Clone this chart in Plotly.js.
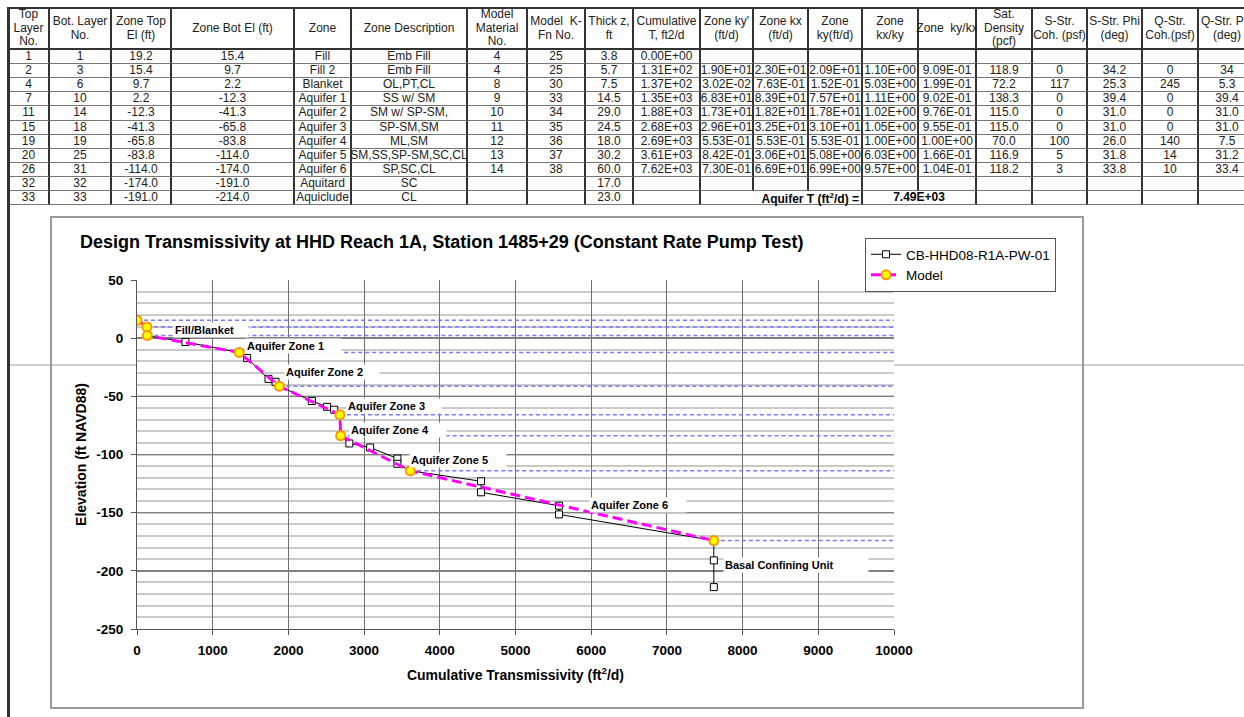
<!DOCTYPE html>
<html>
<head>
<meta charset="utf-8">
<script src="https://cdn.plot.ly/plotly-3.0.1.min.js"></script>
<style>
  html, body { margin:0; padding:0; background:#fff; }
  body { width:1244px; height:717px; overflow:hidden; position:relative; font-family: Arial, "Liberation Sans", sans-serif; }
  .ln { position:absolute; }
  .cell { position:absolute; box-sizing:border-box; border-right:2px solid #333; border-bottom:1px solid #777;
          font-size:12px; color:#222; display:flex; align-items:center; justify-content:center;
          white-space:nowrap; text-align:center; line-height:13.6px; background:#fff; }
  .hdr { border-bottom:2px solid #333; }
  #chart { position:absolute; left:0; top:0; width:1244px; height:717px; z-index:3; }
  #tbl { position:absolute; left:0; top:0; z-index:4; }
</style>
</head>
<body>
<div class="ln" style="left:8px; top:364px; width:1236px; height:2px; background:#cfcfcf; z-index:1"></div>
<div class="ln" style="left:50px; top:216px; width:1034px; height:493px; box-sizing:border-box; border:2px solid #9a9a9a; z-index:2"></div>
<div class="ln" style="left:7px; top:7px; width:3px; height:710px; background:#333; z-index:5"></div>
<div class="ln" style="left:8px; top:7px; width:1236px; height:2px; background:#333; z-index:5"></div>
<div id="tbl"></div>
<div id="chart"></div>
<script>
// ---------------- table data ----------------
const headers = ["Top<br>Layer<br>No.", "Bot. Layer<br>No.", "Zone Top<br>El (ft)", "Zone Bot El (ft)", "Zone", "Zone Description",
  "Model<br>Material<br>No.", "Model&nbsp; K-<br>Fn No.", "Thick z,<br>ft", "Cumulative<br>T, ft2/d", "Zone ky'<br>(ft/d)", "Zone kx<br>(ft/d)",
  "Zone<br>ky(ft/d)", "Zone<br>kx/ky", "Zone&nbsp; ky/kx", "Sat.<br>Density<br>(pcf)", "S-Str.<br>Coh. (psf)", "S-Str. Phi<br>(deg)",
  "Q-Str.<br>Coh.(psf)", "Q-Str. Phi<br>(deg)"];
const topLayer   = [1, 2, 4, 7, 11, 15, 19, 20, 26, 32, 33];
const botLayer   = [1, 3, 6, 10, 14, 18, 19, 25, 31, 32, 33];
const zoneTopEl  = [19.2, 15.4, 9.7, 2.2, -12.3, -41.3, -65.8, -83.8, -114.0, -174.0, -191.0];
const zoneBotEl  = [15.4, 9.7, 2.2, -12.3, -41.3, -65.8, -83.8, -114.0, -174.0, -191.0, -214.0];
const zoneName   = ["Fill", "Fill 2", "Blanket", "Aquifer 1", "Aquifer 2", "Aquifer 3", "Aquifer 4", "Aquifer 5", "Aquifer 6", "Aquitard", "Aquiclude"];
const zoneDesc   = ["Emb Fill", "Emb Fill", "OL,PT,CL", "SS w/ SM", "SM w/ SP-SM,", "SP-SM,SM", "ML,SM", "SM,SS,SP-SM,SC,CL", "SP,SC,CL", "SC", "CL"];
const materialNo = ["4", "4", "8", "9", "10", "11", "12", "13", "14", "", ""];
const kfnNo      = ["25", "25", "30", "33", "34", "35", "36", "37", "38", "", ""];
const thickZ     = ["3.8", "5.7", "7.5", "14.5", "29.0", "24.5", "18.0", "30.2", "60.0", "17.0", "23.0"];
const cumT       = ["0.00E+00", "1.31E+02", "1.37E+02", "1.35E+03", "1.88E+03", "2.68E+03", "2.69E+03", "3.61E+03", "7.62E+03", "", ""];
const kyPrime    = ["", "1.90E+01", "3.02E-02", "6.83E+01", "1.73E+01", "2.96E+01", "5.53E-01", "8.42E-01", "7.30E-01", "", ""];
const kx         = ["", "2.30E+01", "7.63E-01", "8.39E+01", "1.82E+01", "3.25E+01", "5.53E-01", "3.06E+01", "6.69E+01", "", ""];
const ky         = ["", "2.09E+01", "1.52E-01", "7.57E+01", "1.78E+01", "3.10E+01", "5.53E-01", "5.08E+00", "6.99E+00", "", ""];
const kxky       = ["", "1.10E+00", "5.03E+00", "1.11E+00", "1.02E+00", "1.05E+00", "1.00E+00", "6.03E+00", "9.57E+00", "", ""];
const kykx       = ["", "9.09E-01", "1.99E-01", "9.02E-01", "9.76E-01", "9.55E-01", "1.00E+00", "1.66E-01", "1.04E-01", "", ""];
const satDensity = ["", "118.9", "72.2", "138.3", "115.0", "115.0", "70.0", "116.9", "118.2", "", ""];
const sCoh       = ["", "0", "117", "0", "0", "0", "100", "5", "3", "", ""];
const sPhi       = ["", "34.2", "25.3", "39.4", "31.0", "31.0", "26.0", "31.8", "33.8", "", ""];
const qCoh       = ["", "0", "245", "0", "0", "0", "140", "14", "10", "", ""];
const qPhi       = ["", "34", "5.3", "39.4", "31.0", "31.0", "7.5", "31.2", "33.4", "", ""];
const aquiferTLabel = "Aquifer T (ft<sup style='font-size:8px'>2</sup>/d) =";
const aquiferT = "7.49E+03";

// ---------------- chart data ----------------
// measured curve CB-HHD08-R1A-PW-01 (read off the picture)
const measT  = [0, 131, 137, 640, 1350, 1455, 1737, 1830, 1880, 2310, 2510, 2605, 2680, 2690, 2805, 3080, 3440, 3440, 3610, 4545, 4545, 5575, 5575, 7620, 7620, 7620];
const measEl = [15.4, 9.7, 2.2, -3.3, -12.3, -17.1, -35.0, -37.5, -41.3, -54.0, -59.0, -61.5, -65.8, -83.8, -90.5, -94.0, -103.5, -108.0, -114.0, -123.0, -132.5, -144.0, -151.5, -174.0, -191.0, -214.0];
const zoneLabels = ["Fill/Blanket", "Aquifer Zone 1", "Aquifer Zone 2", "Aquifer Zone 3", "Aquifer Zone 4", "Aquifer Zone 5", "Aquifer Zone 6", "Basal Confining Unit"];
const xTicks = [0, 1000, 2000, 3000, 4000, 5000, 6000, 7000, 8000, 9000, 10000];
const yTicks = [50, 0, -50, -100, -150, -200, -250];
const xTickMax = xTicks[xTicks.length - 1];

// ---------------- build table ----------------
const colBounds = [9, 50, 112, 172, 295, 352, 468, 528, 586, 634, 701, 754, 809, 863, 919, 977, 1033, 1088, 1143, 1199, 1257];
const fmt1 = v => v.toFixed(1);
const columns = [topLayer.map(String), botLayer.map(String), zoneTopEl.map(fmt1), zoneBotEl.map(fmt1), zoneName, zoneDesc,
  materialNo, kfnNo, thickZ, cumT, kyPrime, kx, ky, kxky, kykx, satDensity, sCoh, sPhi, qCoh, qPhi];
const tbl = document.getElementById('tbl');
function addCell(left, top, w, h, html, cls, extra) {
  const d = document.createElement('div');
  d.className = 'cell ' + (cls || '');
  d.style.left = left + 'px'; d.style.top = top + 'px';
  d.style.width = w + 'px'; d.style.height = h + 'px';
  if (extra) Object.assign(d.style, extra);
  d.innerHTML = html;
  tbl.appendChild(d);
}
for (let c = 0; c < headers.length; c++) {
  addCell(colBounds[c], 9, colBounds[c + 1] - colBounds[c], 41, headers[c], 'hdr');
}
const nRows = topLayer.length;
for (let r = 0; r < nRows; r++) {
  const top = Math.round(50 + r * 14.1);
  const h = Math.round(50 + (r + 1) * 14.1) - top;
  for (let c = 0; c < columns.length; c++) {
    const w = colBounds[c + 1] - colBounds[c];
    if (r === nRows - 1 && c >= 10 && c <= 14) {
      if (c === 10) addCell(colBounds[10], top, colBounds[13] - colBounds[10], h, '<b>' + aquiferTLabel + '</b>', '', {justifyContent:'flex-end', paddingRight:'2px', color:'#000'});
      if (c === 13) addCell(colBounds[13], top, colBounds[15] - colBounds[13], h, '<b>' + aquiferT + '</b>', '', {color:'#000'});
      continue;
    }
    if (columns[c][r] === '') { addCell(colBounds[c], top, w, h, '&nbsp;', ''); continue; }
    addCell(colBounds[c], top, w, h, columns[c][r], '');
  }
}

// ---------------- chart ----------------
const nModel = cumT.filter(s => s !== '').length;
const modelT = cumT.slice(0, nModel).map(Number);
const modelEl = zoneBotEl.slice(0, nModel);

const traces = [];
for (let i = 0; i < nModel; i++) {
  traces.push({
    x: [modelT[i], xTickMax], y: [modelEl[i], modelEl[i]], mode: 'lines',
    line: {color: '#7a7aff', width: 1.5, dash: '4px,3px'},
    showlegend: false, hoverinfo: 'skip'
  });
}
traces.push({
  x: measT, y: measEl, mode: 'lines+markers', name: 'CB-HHD08-R1A-PW-01',
  line: {color: '#000', width: 1},
  marker: {symbol: 'square', size: 7, color: '#fff', line: {color: '#000', width: 1}}
});
traces.push({
  x: modelT, y: modelEl, mode: 'lines+markers', name: 'Model',
  line: {color: '#ff00ff', width: 3, dash: '10px,5px'},
  marker: {symbol: 'circle', size: 9, color: '#ffff00', line: {color: '#ff9900', width: 2}}
});

// label boxes: [x (data, left edge), y (data, centre), box width px]
const labelPos = [[479, 7.3, 74], [1429, -7.1, 95], [1944, -28.7, 94], [2763, -58.3, 94], [2802, -79.0, 96], [3594, -105.0, 96], [5970, -143.0, 96], [7739, -195.0, 144]];
const annotations = zoneLabels.map((t, i) => ({
  x: labelPos[i][0], y: labelPos[i][1], xref: 'x', yref: 'y', xanchor: 'left', yanchor: 'middle',
  text: '<b>' + t + '</b>', showarrow: false, align: 'left', width: labelPos[i][2] - 2, height: 12,
  bgcolor: '#fff', borderpad: 1, font: {size: 11, color: '#000'}
}));

const FONT = 'Arial, "Liberation Sans", sans-serif';
const layout = {
  width: 1244, height: 717,
  margin: {l: 137, r: 350, t: 280, b: 88, pad: 0},
  paper_bgcolor: 'rgba(0,0,0,0)', plot_bgcolor: '#fff',
  font: {family: FONT, color: '#000'},
  showlegend: true,
  title: {text: '<b>Design Transmissivity at HHD Reach 1A, Station 1485+29 (Constant Rate Pump Test)</b>',
    font: {size: 18, color: '#000', family: FONT}, xref: 'container', yref: 'container',
    x: 80 / 1244, xanchor: 'left', y: 1 - 242 / 717, yanchor: 'middle'},
  xaxis: {range: [0, xTickMax], tickmode: 'array', tickvals: xTicks, ticktext: xTicks.map(String),
    showgrid: true, gridcolor: '#6e6e6e', gridwidth: 1,
    zeroline: false, showline: true, linecolor: '#555', linewidth: 1, ticks: 'outside', ticklen: 5, tickcolor: '#555',
    tickfont: {size: 13.5, weight: 'bold', color: '#000'}, ticklabelstandoff: 4, automargin: false,
    title: {text: '<b>Cumulative Transmissivity (ft<sup>2</sup>/d)</b>', font: {size: 14, color: '#000'}, standoff: 12}},
  yaxis: {range: [-250, 50], tickmode: 'array', tickvals: yTicks, ticktext: yTicks.map(String),
    showgrid: true, gridcolor: '#7f7f7f', gridwidth: 1.5,
    minor: {tickmode: 'linear', tick0: 0, dtick: 10, showgrid: true, gridcolor: '#cacaca', gridwidth: 2, ticks: ''},
    zeroline: false, showline: true, linecolor: '#555', linewidth: 1, ticks: 'outside', ticklen: 5, tickcolor: '#555',
    tickfont: {size: 13.5, weight: 'bold', color: '#000'}, ticklabelstandoff: 5, automargin: false,
    title: {text: '<b>Elevation (ft NAVD88)</b>', font: {size: 14, color: '#000'}, standoff: 6}},
  legend: {x: (865 - 137) / 757, y: (629 - 238) / 349, xanchor: 'left', yanchor: 'top', bgcolor: '#fff',
    bordercolor: '#555', borderwidth: 1, font: {size: 13.5, color: '#000'}, tracegroupgap: 0},
  annotations: annotations
};
Plotly.newPlot('chart', traces, layout, {displayModeBar: false, staticPlot: true});
</script>
</body>
</html>
